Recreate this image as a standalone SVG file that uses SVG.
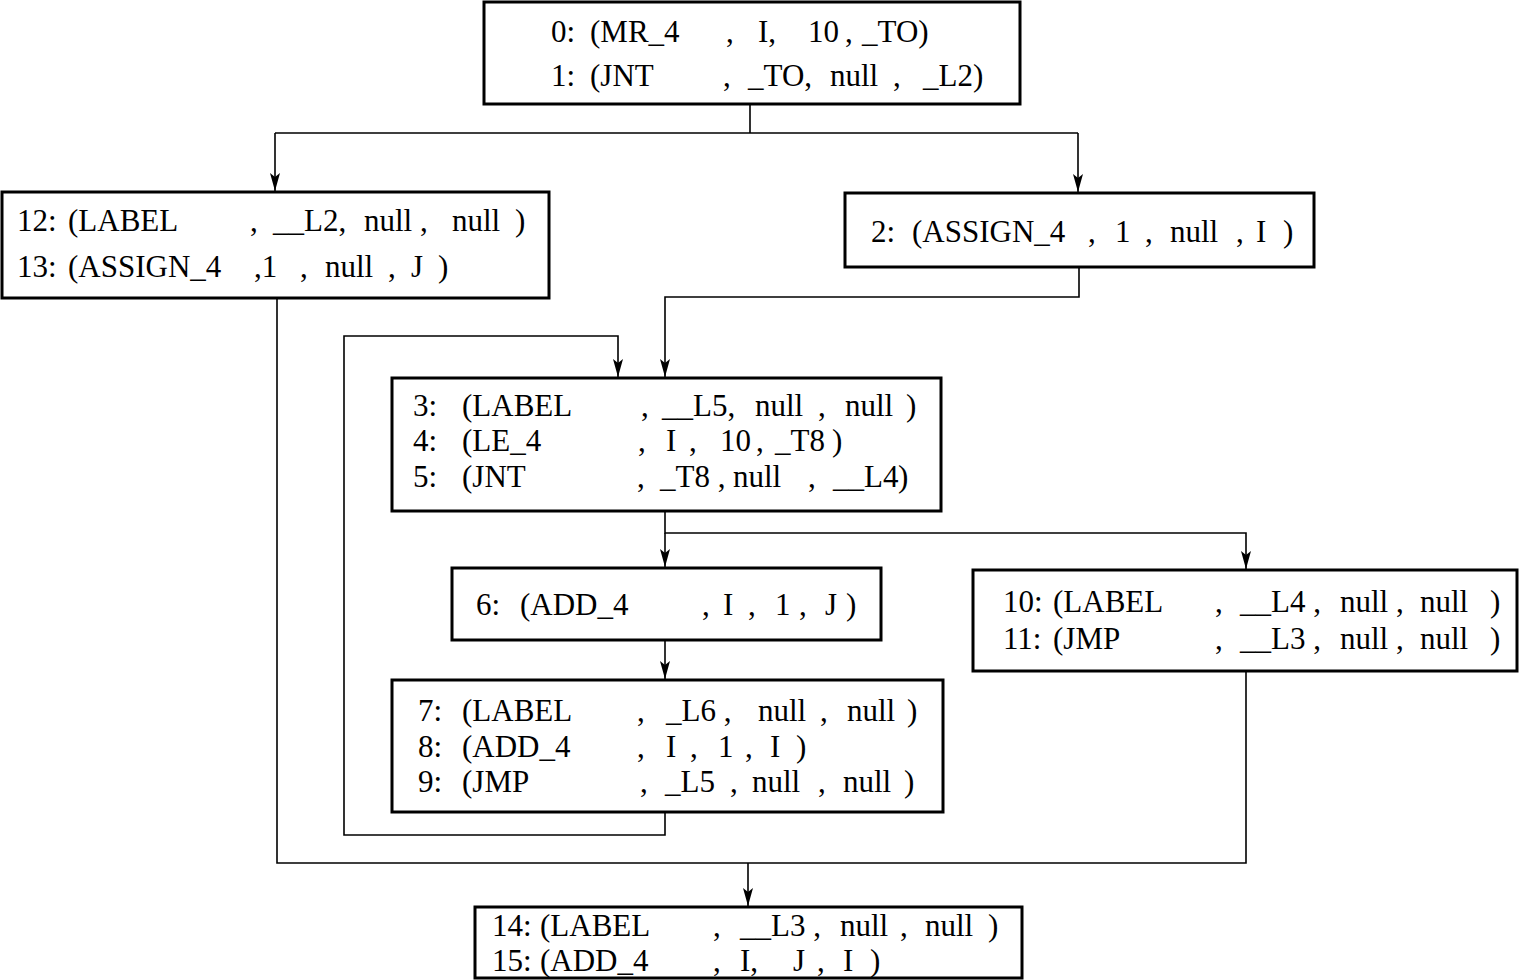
<svg xmlns="http://www.w3.org/2000/svg" width="1519" height="980" viewBox="0 0 1519 980">
<style>
.box{fill:#fff;stroke:#000;stroke-width:3}
.t{font-family:"Liberation Serif","Times New Roman",serif;font-size:31px;fill:#000}
.c{fill:none;stroke:#000;stroke-width:1.6}
</style>
<defs>
<marker id="ah" markerWidth="18" markerHeight="10" refX="18" refY="5" orient="auto" markerUnits="userSpaceOnUse" viewBox="0 0 18 10">
<path d="M0,0 L4,5 L0,10 L18,5 Z" fill="#000"/>
</marker>
</defs>
<rect width="1519" height="980" fill="#fff"/>
<g id="connectors">
<path class="c" d="M750,104 V133 M275,133 H1078"/>
<path class="c" d="M275,133 V191" marker-end="url(#ah)"/>
<path class="c" d="M1078,133 V192" marker-end="url(#ah)"/>
<path class="c" d="M1079,267 V297 H665 V377" marker-end="url(#ah)"/>
<path class="c" d="M665,812 V835 H344 V336 H618 V377" marker-end="url(#ah)"/>
<path class="c" d="M665,511 V533 H1246 V569" marker-end="url(#ah)"/>
<path class="c" d="M665,533 V567" marker-end="url(#ah)"/>
<path class="c" d="M665,640 V679" marker-end="url(#ah)"/>
<path class="c" d="M277,298 V863 H1246 V671"/>
<path class="c" d="M748,863 V906" marker-end="url(#ah)"/>
</g>
<g id="n0">
<rect class="box" x="484" y="2" width="536" height="102"/>
<text class="t" y="42"><tspan x="551">0:</tspan><tspan x="590">(MR_4</tspan><tspan x="726">,</tspan><tspan x="758">I,</tspan><tspan x="808">10</tspan><tspan x="845">,</tspan><tspan x="862">_TO)</tspan></text>
<text class="t" y="86"><tspan x="551">1:</tspan><tspan x="590">(JNT</tspan><tspan x="723">,</tspan><tspan x="748">_TO,</tspan><tspan x="830">null</tspan><tspan x="893">,</tspan><tspan x="923">_L2)</tspan></text>
</g>
<g id="n12">
<rect class="box" x="2" y="192" width="547" height="106"/>
<text class="t" y="231"><tspan x="17">12:</tspan><tspan x="68">(LABEL</tspan><tspan x="250">,</tspan><tspan x="273">__L2,</tspan><tspan x="364">null ,</tspan><tspan x="452">null</tspan><tspan x="515">)</tspan></text>
<text class="t" y="277"><tspan x="17">13:</tspan><tspan x="68">(ASSIGN_4</tspan><tspan x="254">,1</tspan><tspan x="300">,</tspan><tspan x="325">null</tspan><tspan x="388">,</tspan><tspan x="411">J</tspan><tspan x="438">)</tspan></text>
</g>
<g id="n2">
<rect class="box" x="845" y="193" width="469" height="74"/>
<text class="t" y="242"><tspan x="871">2:</tspan><tspan x="912">(ASSIGN_4</tspan><tspan x="1088">,</tspan><tspan x="1115">1</tspan><tspan x="1145">,</tspan><tspan x="1170">null</tspan><tspan x="1236">,</tspan><tspan x="1256">I</tspan><tspan x="1283">)</tspan></text>
</g>
<g id="n3">
<rect class="box" x="392" y="378" width="549" height="133"/>
<text class="t" y="416"><tspan x="413">3:</tspan><tspan x="462">(LABEL</tspan><tspan x="641">,</tspan><tspan x="662">__L5,</tspan><tspan x="755">null</tspan><tspan x="818">,</tspan><tspan x="845">null</tspan><tspan x="906">)</tspan></text>
<text class="t" y="451"><tspan x="413">4:</tspan><tspan x="462">(LE_4</tspan><tspan x="638">,</tspan><tspan x="666">I</tspan><tspan x="689">,</tspan><tspan x="720">10</tspan><tspan x="756">,</tspan><tspan x="775">_T8</tspan><tspan x="832">)</tspan></text>
<text class="t" y="487"><tspan x="413">5:</tspan><tspan x="462">(JNT</tspan><tspan x="637">,</tspan><tspan x="660">_T8 ,</tspan><tspan x="733">null</tspan><tspan x="808">,</tspan><tspan x="833">__L4</tspan><tspan x="898">)</tspan></text>
</g>
<g id="n6">
<rect class="box" x="452" y="568" width="429" height="72"/>
<text class="t" y="615"><tspan x="476">6:</tspan><tspan x="520">(ADD_4</tspan><tspan x="702">,</tspan><tspan x="723">I</tspan><tspan x="748">,</tspan><tspan x="775">1</tspan><tspan x="799">,</tspan><tspan x="825">J</tspan><tspan x="846">)</tspan></text>
</g>
<g id="n7">
<rect class="box" x="392" y="680" width="551" height="132"/>
<text class="t" y="721"><tspan x="418">7:</tspan><tspan x="462">(LABEL</tspan><tspan x="637">,</tspan><tspan x="666">_L6 ,</tspan><tspan x="758">null</tspan><tspan x="820">,</tspan><tspan x="847">null</tspan><tspan x="907">)</tspan></text>
<text class="t" y="757"><tspan x="418">8:</tspan><tspan x="462">(ADD_4</tspan><tspan x="637">,</tspan><tspan x="666">I</tspan><tspan x="690">,</tspan><tspan x="718">1</tspan><tspan x="745">,</tspan><tspan x="770">I</tspan><tspan x="796">)</tspan></text>
<text class="t" y="792"><tspan x="418">9:</tspan><tspan x="462">(JMP</tspan><tspan x="640">,</tspan><tspan x="665">_L5</tspan><tspan x="730">,</tspan><tspan x="752">null</tspan><tspan x="818">,</tspan><tspan x="843">null</tspan><tspan x="904">)</tspan></text>
</g>
<g id="n10">
<rect class="box" x="973" y="570" width="544" height="101"/>
<text class="t" y="612"><tspan x="1003">10:</tspan><tspan x="1053">(LABEL</tspan><tspan x="1215">,</tspan><tspan x="1240">__L4 ,</tspan><tspan x="1340">null ,</tspan><tspan x="1420">null</tspan><tspan x="1490">)</tspan></text>
<text class="t" y="649"><tspan x="1003">11:</tspan><tspan x="1053">(JMP</tspan><tspan x="1215">,</tspan><tspan x="1240">__L3 ,</tspan><tspan x="1340">null ,</tspan><tspan x="1420">null</tspan><tspan x="1490">)</tspan></text>
</g>
<g id="n14">
<rect class="box" x="475" y="907" width="547" height="71"/>
<text class="t" y="936"><tspan x="492">14:</tspan><tspan x="540">(LABEL</tspan><tspan x="713">,</tspan><tspan x="740">__L3 ,</tspan><tspan x="840">null</tspan><tspan x="900">,</tspan><tspan x="925">null</tspan><tspan x="988">)</tspan></text>
<text class="t" y="971"><tspan x="492">15:</tspan><tspan x="540">(ADD_4</tspan><tspan x="713">,</tspan><tspan x="740">I,</tspan><tspan x="793">J</tspan><tspan x="817">,</tspan><tspan x="843">I</tspan><tspan x="870">)</tspan></text>
</g>
</svg>
